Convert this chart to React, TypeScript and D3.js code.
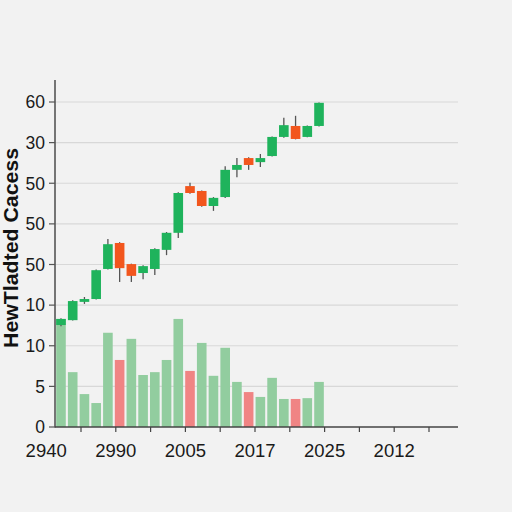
import React from "react";
import * as d3 from "d3";

const opens = [2.51, 2.63, 3.08, 3.15, 3.89, 4.53, 4.01, 3.79, 3.89, 4.36, 4.78, 5.93, 5.81, 5.44, 5.66, 6.33, 6.62, 6.52, 6.67, 7.14, 7.41, 7.14, 7.41];
const closes = [2.66, 3.10, 3.15, 3.86, 4.50, 3.91, 3.72, 3.96, 4.38, 4.78, 5.76, 5.76, 5.44, 5.64, 6.33, 6.45, 6.45, 6.62, 7.14, 7.43, 7.09, 7.41, 7.98];
const highs = [2.68, 3.12, 3.20, 3.88, 4.63, 4.55, 4.02, 3.98, 4.40, 4.80, 5.78, 6.01, 5.82, 5.66, 6.42, 6.62, 6.64, 6.72, 7.15, 7.61, 7.66, 7.42, 7.99];
const lows = [2.48, 2.62, 3.03, 3.14, 3.88, 3.57, 3.57, 3.64, 3.74, 4.23, 4.65, 5.74, 5.42, 5.32, 5.64, 6.15, 6.33, 6.40, 6.66, 7.12, 7.08, 7.13, 7.40];
const volumes = [2.66, 1.35, 0.81, 0.59, 2.32, 1.65, 2.17, 1.28, 1.35, 1.65, 2.66, 1.38, 2.07, 1.26, 1.95, 1.11, 0.86, 0.74, 1.21, 0.69, 0.69, 0.71, 1.11];
const volumeDown = [false, false, false, false, false, true, false, false, false, false, false, true, false, false, false, false, true, false, false, false, true, false, false];
const yTickLabels = ["0", "5", "10", "10", "50", "50", "50", "30", "60"];
const xTickLabels = ["2940", "2990", "2005", "2017", "2025", "2012"];
const yTitle = "HewTladted Cacess";

const W = 512;
const H = 512;

export default function App() {
  const y = d3.scaleLinear().domain([0, 8]).range([427, 102]);
  const idx = opens.map((_, i) => i);
  const xb = d3.scaleBand<number>().domain(idx).range([55, 325]).paddingInner(0.18).paddingOuter(0.1);
  const xt = d3.scaleLinear().domain([0, 10]).range([81, 429]);
  const bw = xb.bandwidth();
  const gridVals = d3.range(1, 9);
  const tickIdx = d3.range(0, 11);
  const font = "'Liberation Sans', Arial, Helvetica, sans-serif";
  const green = "#1fb35c";
  const red = "#f2561d";

  return (
    <svg width={W} height={H} style={{ position: "absolute", left: 0, top: 0 }} fontFamily={font}>
      <rect x={0} y={0} width={W} height={H} fill="#f2f2f2" />
      {gridVals.map((v) => (
        <line key={v} x1={55} x2={458} y1={y(v)} y2={y(v)} stroke="#d8d8d8" strokeWidth={1.2} />
      ))}
      {volumes.map((v, i) => (
        <rect key={"v" + i} x={xb(i)} y={y(v)} width={bw} height={y(0) - y(v)} fill={volumeDown[i] ? "#f08484" : "#92cd9f"} />
      ))}
      {opens.map((o, i) => {
        const c = closes[i];
        const up = c >= o;
        const cx = (xb(i) as number) + bw / 2;
        return (
          <g key={"c" + i}>
            <line x1={cx} x2={cx} y1={y(highs[i])} y2={y(lows[i])} stroke="#555" strokeWidth={1.3} />
            <rect x={xb(i)} y={y(Math.max(o, c))} width={bw} height={Math.max(1.5, Math.abs(y(o) - y(c)))} fill={up ? green : red} />
          </g>
        );
      })}
      <line x1={55} x2={55} y1={80} y2={427.5} stroke="#555" strokeWidth={1.6} />
      <line x1={55} x2={458} y1={427} y2={427} stroke="#444" strokeWidth={1.4} />
      {yTickLabels.map((t, i) => (
        <g key={"yt" + i}>
          <line x1={49} x2={55} y1={y(i)} y2={y(i)} stroke="#555" strokeWidth={1.2} />
          <text x={45} y={y(i)} dy="0.36em" textAnchor="end" fontSize={17.5} fill="#1a1a1a">{t}</text>
        </g>
      ))}
      {tickIdx.map((k) => (
        <line key={"xt" + k} x1={xt(k)} x2={xt(k)} y1={427} y2={432} stroke="#444" strokeWidth={1.2} />
      ))}
      {xTickLabels.map((t, i) => (
        <text key={"xl" + i} x={xt(2 * i - 1)} y={457} textAnchor="middle" fontSize={18.5} fill="#1a1a1a">{t}</text>
      ))}
      <text transform="translate(18,248) rotate(-90)" textAnchor="middle" fontSize={21} fontWeight="bold" fill="#111" textLength={200} lengthAdjust="spacingAndGlyphs">{yTitle}</text>
    </svg>
  );
}
